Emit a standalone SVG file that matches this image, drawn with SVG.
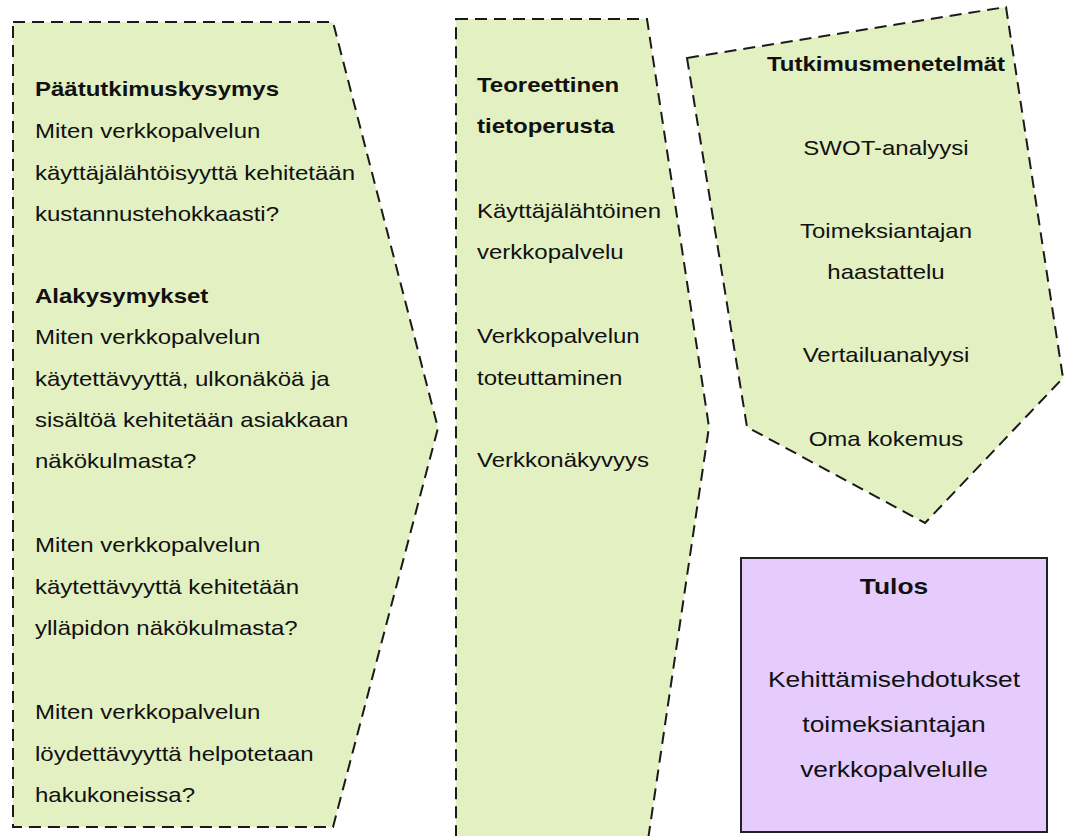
<svg xmlns="http://www.w3.org/2000/svg" width="1066" height="836" viewBox="0 0 1066 836">
<style>
.sh{fill:#e3f0c1;stroke:#1a1a1a;stroke-width:2;stroke-dasharray:12 7;}
.t{font-family:"Liberation Sans",Arial,sans-serif;font-size:20px;fill:#111;}
.r{font-size:22px;}
.b{font-weight:bold;}
.c{text-anchor:middle;}
</style>
<rect width="1066" height="836" fill="#fff"/>
<g id="questions">
<polygon class="sh" points="13,22 333,22 438,428 333,827 13,827"/>
<text class="t b" transform="matrix(1.2 0 0 1 35 96)">Päätutkimuskysymys</text>
<text class="t" transform="matrix(1.2 0 0 1 35 138)">Miten verkkopalvelun</text>
<text class="t" transform="matrix(1.2 0 0 1 35 180)">käyttäjälähtöisyyttä kehitetään</text>
<text class="t" transform="matrix(1.2 0 0 1 35 221)">kustannustehokkaasti?</text>
<text class="t b" transform="matrix(1.2 0 0 1 35 303)">Alakysymykset</text>
<text class="t" transform="matrix(1.2 0 0 1 35 344)">Miten verkkopalvelun</text>
<text class="t" transform="matrix(1.2 0 0 1 35 386)">käytettävyyttä, ulkonäköä ja</text>
<text class="t" transform="matrix(1.2 0 0 1 35 427)">sisältöä kehitetään asiakkaan</text>
<text class="t" transform="matrix(1.2 0 0 1 35 468)">näkökulmasta?</text>
<text class="t" transform="matrix(1.2 0 0 1 35 552)">Miten verkkopalvelun</text>
<text class="t" transform="matrix(1.2 0 0 1 35 594)">käytettävyyttä kehitetään</text>
<text class="t" transform="matrix(1.2 0 0 1 35 635)">ylläpidon näkökulmasta?</text>
<text class="t" transform="matrix(1.2 0 0 1 35 719)">Miten verkkopalvelun</text>
<text class="t" transform="matrix(1.2 0 0 1 35 761)">löydettävyyttä helpotetaan</text>
<text class="t" transform="matrix(1.2 0 0 1 35 802)">hakukoneissa?</text>
</g>
<g id="theory">
<polygon class="sh" points="456,19 647,19 709,427 648,840 456,840"/>
<text class="t b" transform="matrix(1.2 0 0 1 477 92)">Teoreettinen</text>
<text class="t b" transform="matrix(1.2 0 0 1 477 133)">tietoperusta</text>
<text class="t" transform="matrix(1.2 0 0 1 477 218)">Käyttäjälähtöinen</text>
<text class="t" transform="matrix(1.2 0 0 1 477 259)">verkkopalvelu</text>
<text class="t" transform="matrix(1.2 0 0 1 477 343)">Verkkopalvelun</text>
<text class="t" transform="matrix(1.2 0 0 1 477 385)">toteuttaminen</text>
<text class="t" transform="matrix(1.2 0 0 1 477 467)">Verkkonäkyvyys</text>
</g>
<g id="methods">
<polygon class="sh" points="687,58 1006,7 1063,378 925,523 747,427"/>
<text class="t b c" transform="matrix(1.2 0 0 1 886 71)">Tutkimusmenetelmät</text>
<text class="t c" transform="matrix(1.2 0 0 1 886 155)">SWOT-analyysi</text>
<text class="t c" transform="matrix(1.2 0 0 1 886 238)">Toimeksiantajan</text>
<text class="t c" transform="matrix(1.2 0 0 1 886 279)">haastattelu</text>
<text class="t c" transform="matrix(1.2 0 0 1 886 362)">Vertailuanalyysi</text>
<text class="t c" transform="matrix(1.2 0 0 1 886 446)">Oma kokemus</text>
</g>
<g id="result">
<rect x="741" y="558" width="306" height="274" fill="#e5ccfc" stroke="#222" stroke-width="2"/>
<text class="t r b c" transform="matrix(1.2 0 0 1 894 594)">Tulos</text>
<text class="t r c" transform="matrix(1.2 0 0 1 894 687)">Kehittämisehdotukset</text>
<text class="t r c" transform="matrix(1.2 0 0 1 894 732)">toimeksiantajan</text>
<text class="t r c" transform="matrix(1.2 0 0 1 894 777)">verkkopalvelulle</text>
</g>
<g id="connectors"></g>
</svg>
